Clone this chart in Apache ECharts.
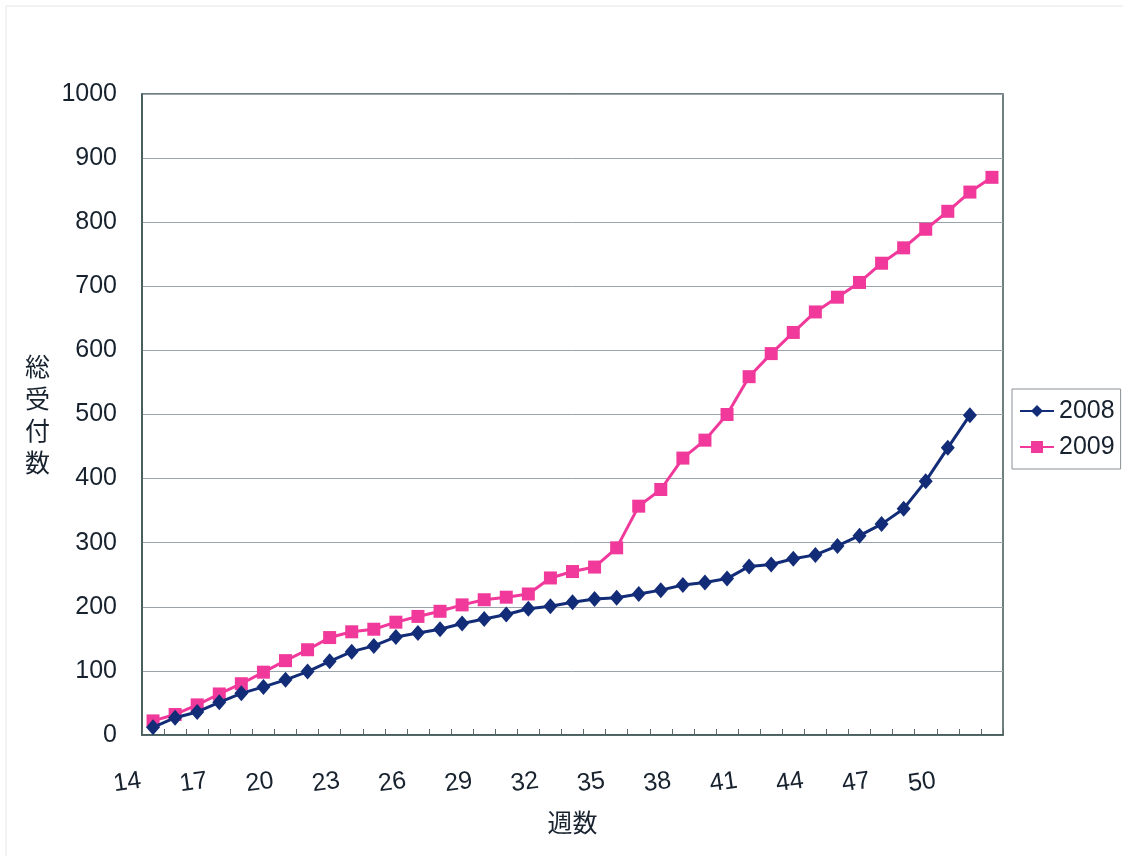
<!DOCTYPE html>
<html>
<head>
<meta charset="utf-8">
<script src="https://cdn.jsdelivr.net/npm/echarts@6/dist/echarts.min.js"></script>
<style>
  html, body { margin: 0; padding: 0; background: #ffffff; }
  #chart { width: 1123px; height: 856px; }
</style>
</head>
<body>
<div id="chart"></div>
<script>
// Weeks 14 .. 52
const weeks = [14, 15, 16, 17, 18, 19, 20, 21, 22, 23, 24, 25, 26, 27, 28, 29, 30, 31, 32, 33,
  34, 35, 36, 37, 38, 39, 40, 41, 42, 43, 44, 45, 46, 47, 48, 49, 50, 51, 52];

// Cumulative receipts per week
const received2008 = [12, 27, 36, 51, 65, 75, 86, 99, 115, 130, 139, 153, 159, 165, 174, 181, 188, 197, 201, 207,
  212, 214, 220, 226, 234, 238, 244, 263, 266, 275, 281, 295, 311, 329, 353, 396, 448, 499, null];
const received2009 = [22, 32, 47, 64, 80, 98, 116, 133, 152, 161, 165, 176, 185, 193, 203, 211, 215, 220, 245, 255,
  262, 292, 357, 383, 432, 460, 500, 559, 595, 628, 660, 683, 706, 736, 760, 789, 817, 847, 870];

const seriesNames = ['2008', '2009'];
const yTicks = { min: 0, max: 1000, interval: 100 };

const textColor = '#17222e';
const frameColor = '#3e5656';
const latin = '"Liberation Sans", Arial, sans-serif';
const cjk = '"Noto Sans CJK JP", sans-serif';

const chart = echarts.init(document.getElementById('chart'), null, { renderer: 'canvas' });

chart.setOption({
  backgroundColor: '#ffffff',
  animation: false,
  graphic: [{
    type: 'rect',
    shape: { x: 6, y: 6, width: 1130, height: 860 },
    style: { fill: 'none', stroke: '#e4e6e8', lineWidth: 1 },
    silent: true,
    z: -1
  }],
  grid: { left: 142, right: 120, top: 94, bottom: 121, show: true, borderColor: frameColor, borderWidth: 1.5 },
  legend: {
    orient: 'vertical',
    left: 1012,
    top: 389,
    data: seriesNames,
    itemWidth: 34,
    itemHeight: 15,
    itemGap: 8,
    padding: [8, 6, 8, 7],
    borderColor: '#8a8f94',
    borderWidth: 1,
    textStyle: { fontFamily: latin, fontSize: 25, color: textColor, lineHeight: 28 }
  },
  xAxis: {
    type: 'category',
    data: weeks,
    boundaryGap: true,
    name: '週数',
    nameLocation: 'middle',
    nameGap: 75,
    nameTextStyle: { fontFamily: cjk, fontSize: 25, color: textColor },
    axisLine: { lineStyle: { color: frameColor, width: 1.5 } },
    axisTick: { show: true, inside: true, length: 6, interval: 0, alignWithLabel: false, lineStyle: { color: '#5a6a6a', width: 1 } },
    axisLabel: {
      interval: 2,
      rotate: 8,
      margin: 44,
      padding: [0, 12, 0, 0],
      fontFamily: latin,
      fontSize: 25,
      color: textColor
    },
    splitLine: { show: false }
  },
  yAxis: {
    type: 'value',
    min: yTicks.min,
    max: yTicks.max,
    interval: yTicks.interval,
    name: '総\n受\n付\n数',
    nameLocation: 'middle',
    nameRotate: 0,
    nameGap: 92,
    nameTextStyle: { fontFamily: cjk, fontSize: 25, color: textColor, lineHeight: 32 },
    axisLine: { show: true, lineStyle: { color: frameColor, width: 1.5 } },
    axisTick: { show: false },
    axisLabel: {
      margin: 25,
      fontFamily: latin,
      fontSize: 25,
      color: textColor,
      formatter: (v) => String(v)
    },
    splitLine: { show: true, lineStyle: { color: '#9aa3ab', width: 1 } }
  },
  series: [
    {
      name: seriesNames[0],
      type: 'line',
      data: received2008,
      symbol: 'diamond',
      symbolSize: [14, 16],
      showAllSymbol: true,
      lineStyle: { color: '#132c78', width: 3 },
      itemStyle: { color: '#132c78' },
      z: 3
    },
    {
      name: seriesNames[1],
      type: 'line',
      data: received2009,
      symbol: 'rect',
      symbolSize: 13,
      showAllSymbol: true,
      lineStyle: { color: '#f0399b', width: 3 },
      itemStyle: { color: '#f0399b' },
      z: 2
    }
  ]
});
</script>
</body>
</html>
